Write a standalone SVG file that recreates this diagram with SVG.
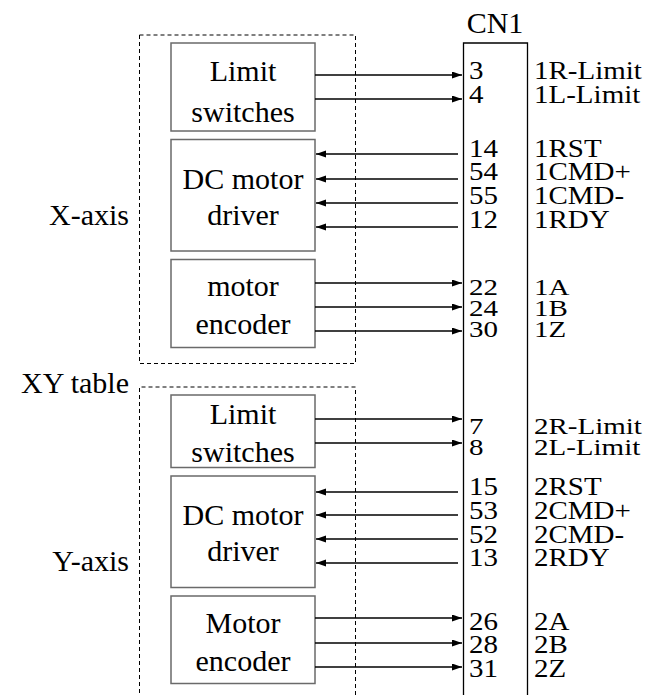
<svg xmlns="http://www.w3.org/2000/svg" width="656" height="695" viewBox="0 0 656 695" font-family="Liberation Serif, Times New Roman, serif">
<defs>
<marker id="ah" markerUnits="userSpaceOnUse" markerWidth="11" markerHeight="8" refX="10" refY="3.5" orient="auto"><path d="M0,0 L10,3.5 L0,7 z" fill="#000"/></marker>
</defs>
<style>
text{font-size:30px;fill:#000}
.c{text-anchor:middle}
.e{text-anchor:end}
.p{font-size:29px}
.box{fill:#fff;stroke:#6a6a6a;stroke-width:1.5}
.dash{fill:none;stroke:#000;stroke-width:1;stroke-dasharray:4 3}
.cn{fill:none;stroke:#000;stroke-width:1.3}
.w{stroke:#000;stroke-width:1.3;fill:none;marker-end:url(#ah)}
</style>
<rect width="656" height="695" fill="#fff"/>
<g id="groups">
<rect class="dash" x="139.5" y="35" width="216" height="328.5"/>
<path class="dash" d="M139.5,700 V387 H355.5 V700"/>
<text class="e" x="129" y="225">X-axis</text>
<text class="e" x="129" y="393">XY table</text>
<text class="e" x="129" y="571">Y-axis</text>
</g>
<g id="cn1">
<text class="c" x="495" y="33">CN1</text>
<path class="cn" d="M463.5,700 V43 H527.5 V700"/>
</g>
<g id="x-limit"><rect class="box" x="171" y="43" width="144" height="88"/><text class="c" x="243" y="81">Limit</text><text class="c" x="243" y="122">switches</text></g>
<g id="x-driver"><rect class="box" x="171" y="139.5" width="144" height="111.5"/><text class="c" x="243" y="189">DC motor</text><text class="c" x="243" y="225">driver</text></g>
<g id="x-encoder"><rect class="box" x="171" y="259.5" width="144" height="88"/><text class="c" x="243" y="296">motor</text><text class="c" x="243" y="334">encoder</text></g>
<g id="y-limit"><rect class="box" x="171" y="395" width="144" height="72.5"/><text class="c" x="243" y="424">Limit</text><text class="c" x="243" y="462">switches</text></g>
<g id="y-driver"><rect class="box" x="171" y="476" width="144" height="111.5"/><text class="c" x="243" y="525">DC motor</text><text class="c" x="243" y="561">driver</text></g>
<g id="y-encoder"><rect class="box" x="171" y="596" width="144" height="87.5"/><text class="c" x="243" y="633">Motor</text><text class="c" x="243" y="671">encoder</text></g>
<g id="connectors">
<line class="w" x1="315" y1="75" x2="462" y2="75"/>
<line class="w" x1="315" y1="99" x2="462" y2="99"/>
<line class="w" x1="458" y1="154" x2="316" y2="154"/>
<line class="w" x1="458" y1="179" x2="316" y2="179"/>
<line class="w" x1="458" y1="203" x2="316" y2="203"/>
<line class="w" x1="458" y1="227" x2="316" y2="227"/>
<line class="w" x1="315" y1="283" x2="462" y2="283"/>
<line class="w" x1="315" y1="307" x2="462" y2="307"/>
<line class="w" x1="315" y1="331" x2="462" y2="331"/>
<line class="w" x1="315" y1="419" x2="462" y2="419"/>
<line class="w" x1="315" y1="443" x2="462" y2="443"/>
<line class="w" x1="458" y1="492" x2="316" y2="492"/>
<line class="w" x1="458" y1="515" x2="316" y2="515"/>
<line class="w" x1="458" y1="539" x2="316" y2="539"/>
<line class="w" x1="458" y1="563" x2="316" y2="563"/>
<line class="w" x1="315" y1="618" x2="462" y2="618"/>
<line class="w" x1="315" y1="643" x2="462" y2="643"/>
<line class="w" x1="315" y1="667" x2="462" y2="667"/>
</g>
<g id="pins">
<text class="p" transform="translate(469,79) scale(1,0.85)">3</text><text class="p" transform="translate(534,79) scale(1,0.85)">1R-Limit</text>
<text class="p" transform="translate(469,103) scale(1,0.85)">4</text><text class="p" transform="translate(534,103) scale(1,0.85)">1L-Limit</text>
<text class="p" transform="translate(469,157) scale(1,0.85)">14</text><text class="p" transform="translate(534,157) scale(1,0.85)">1RST</text>
<text class="p" transform="translate(469,180) scale(1,0.85)">54</text><text class="p" transform="translate(534,180) scale(1,0.85)">1CMD+</text>
<text class="p" transform="translate(469,204) scale(1,0.85)">55</text><text class="p" transform="translate(534,204) scale(1,0.85)">1CMD-</text>
<text class="p" transform="translate(469,228) scale(1,0.85)">12</text><text class="p" transform="translate(534,228) scale(1,0.85)">1RDY</text>
<text class="p" transform="translate(469,295) scale(1,0.8)">22</text><text class="p" transform="translate(534,295) scale(1,0.8)">1A</text>
<text class="p" transform="translate(469,316) scale(1,0.8)">24</text><text class="p" transform="translate(534,316) scale(1,0.8)">1B</text>
<text class="p" transform="translate(469,337) scale(1,0.8)">30</text><text class="p" transform="translate(534,337) scale(1,0.8)">1Z</text>
<text class="p" transform="translate(469,434) scale(1,0.8)">7</text><text class="p" transform="translate(534,434) scale(1,0.8)">2R-Limit</text>
<text class="p" transform="translate(469,455) scale(1,0.8)">8</text><text class="p" transform="translate(534,455) scale(1,0.8)">2L-Limit</text>
<text class="p" transform="translate(469,495) scale(1,0.85)">15</text><text class="p" transform="translate(534,495) scale(1,0.85)">2RST</text>
<text class="p" transform="translate(469,519) scale(1,0.85)">53</text><text class="p" transform="translate(534,519) scale(1,0.85)">2CMD+</text>
<text class="p" transform="translate(469,543) scale(1,0.85)">52</text><text class="p" transform="translate(534,543) scale(1,0.85)">2CMD-</text>
<text class="p" transform="translate(469,566) scale(1,0.85)">13</text><text class="p" transform="translate(534,566) scale(1,0.85)">2RDY</text>
<text class="p" transform="translate(469,630) scale(1,0.85)">26</text><text class="p" transform="translate(534,630) scale(1,0.85)">2A</text>
<text class="p" transform="translate(469,653) scale(1,0.85)">28</text><text class="p" transform="translate(534,653) scale(1,0.85)">2B</text>
<text class="p" transform="translate(469,677) scale(1,0.85)">31</text><text class="p" transform="translate(534,677) scale(1,0.85)">2Z</text>
</g>
</svg>
